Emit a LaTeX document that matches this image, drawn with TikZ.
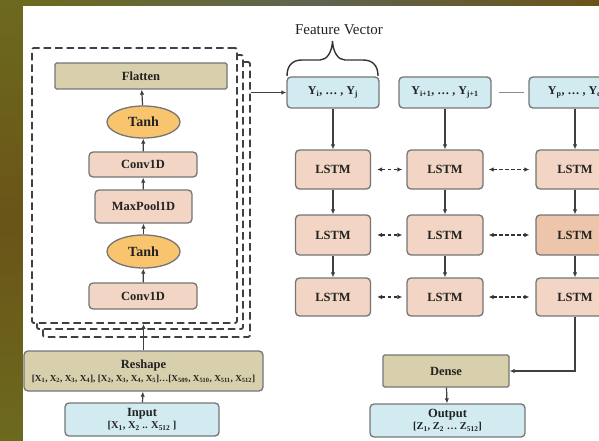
\documentclass[tikz,border=0pt]{standalone}
\usepackage{fontspec}
\setmainfont{Liberation Serif}
\usetikzlibrary{arrows.meta,calc,shapes.geometric}
\definecolor{tanfill}{HTML}{D8CFAC}
\definecolor{peach}{HTML}{F2D5C4}
\definecolor{peachdark}{HTML}{ECC5AB}
\definecolor{orangefill}{HTML}{F8C46E}
\definecolor{bluefill}{HTML}{D2EBF1}
\definecolor{edgegray}{HTML}{757575}
\definecolor{txt}{HTML}{222222}
\definecolor{olivebg}{HTML}{6C6A1E}
\definecolor{olivebrown}{HTML}{6A5418}
\definecolor{olivegray}{HTML}{5F6450}
\newcommand{\sbs}[1]{\textsubscript{#1}}
\tikzset{
  box/.style={draw=edgegray, line width=1.3pt, rounded corners=4pt, inner sep=0pt, text=txt,
    font=\fontsize{12.5}{14}\selectfont\bfseries, align=center},
  tanbox/.style={box, fill=tanfill, rounded corners=1.5pt},
  peachbox/.style={box, fill=peach},
  bluebox/.style={box, fill=bluefill},
  act/.style={ellipse, draw=edgegray, line width=1.3pt, fill=orangefill, inner sep=0pt, text=txt,
    font=\fontsize{14}{16}\selectfont\bfseries},
  frame/.style={draw=black!75, line width=1.8pt, dash pattern=on 7.5pt off 4pt, fill=white,
    rounded corners=2pt, inner sep=0pt},
  arr/.style={draw=black!75, line width=1.2pt, -{Latex[length=5pt,width=4.5pt]}},
  darr/.style={draw=black!80, line width=1.3pt, dash pattern=on 3.5pt off 2.5pt,
    {Latex[length=5pt,width=4.5pt]}-{Latex[length=5pt,width=4.5pt]}},
}
\begin{document}
\begin{tikzpicture}[x=1pt,y=-1pt]
\useasboundingbox (0,0) rectangle (599,441);
\shade[top color=olivebg, bottom color=olivebg, middle color=olivebrown] (0,0) rectangle (23,441);
\shade[left color=olivebg, right color=olivebrown, middle color=olivegray] (23,0) rectangle (599,6);
\fill[white] (23,6) rectangle (599,441);
\begin{scope}
\clip (0,0) rectangle (599,441);
% stacked dashed frames
\node[frame, minimum width=207pt, minimum height=275pt] (f3) at (146.5,199.5) {};
\node[frame, minimum width=206pt, minimum height=274pt] (f2) at (140,192) {};
\node[frame, minimum width=205pt, minimum height=275pt] (f1) at (134.5,185.5) {};
% left column
\node[tanbox, minimum width=172pt, minimum height=26pt] (flatten) at (141,76) {Flatten};
\node[act, minimum width=73pt, minimum height=32pt] (tanh1) at (143.5,122) {Tanh};
\node[peachbox, minimum width=108pt, minimum height=25pt] (conv1) at (143,164.5) {Conv1D};
\node[peachbox, minimum width=97pt, minimum height=33pt] (maxpool) at (143.5,206.5) {MaxPool1D};
\node[act, minimum width=73pt, minimum height=33pt] (tanh2) at (143.5,251.5) {Tanh};
\node[peachbox, minimum width=108pt, minimum height=26pt] (conv2) at (143,296) {Conv1D};
\node[tanbox, rounded corners=4pt, minimum width=239pt, minimum height=40pt] (reshape) at (143.5,371)
  {Reshape\\[-1pt]{\fontsize{9.2}{11}\selectfont [X\sbs{1}, X\sbs{2}, X\sbs{3}, X\sbs{4}], [X\sbs{2}, X\sbs{3}, X\sbs{4}, X\sbs{5}]…[X\sbs{509}, X\sbs{510}, X\sbs{511}, X\sbs{512}]}};
\node[bluebox, minimum width=154pt, minimum height=33pt] (input) at (142,419.5)
  {Input\\[-2pt]{\fontsize{10.5}{12}\selectfont [X\sbs{1}, X\sbs{2} .. X\sbs{512} ]}};
\draw[arr] (conv2) -- (tanh2);
\draw[arr] (tanh2) -- (maxpool);
\draw[arr] (maxpool) -- (conv1);
\draw[arr] (conv1) -- (tanh1);
\draw[arr] (tanh1) -- (flatten);
\draw[arr] (input) -- (reshape);
\draw[arr] (reshape.north) -- (reshape.north |- f1.south);
% feature vector
\node[font=\fontsize{15}{17}\selectfont, text=txt] (fv) at (339,30) {Feature Vector};
\draw[black!80, line width=1.4pt] (287,76) .. controls (287,66) and (292,60) .. (302,60) -- (320,60)
  .. controls (327,60) and (332,52) .. (332.5,41) .. controls (333,52) and (338,60) .. (345,60)
  -- (363,60) .. controls (373,60) and (378,66) .. (378,76);
\node[bluebox, font=\fontsize{12}{14}\selectfont\bfseries, minimum width=92pt, minimum height=31pt] (y1) at (333,92.5) {Y\sbs{i}, … , Y\sbs{j}};
\node[bluebox, font=\fontsize{12}{14}\selectfont\bfseries, minimum width=92pt, minimum height=31pt] (y2) at (445,92.5) {Y\sbs{i+1}, … , Y\sbs{j+1}};
\node[bluebox, font=\fontsize{12}{14}\selectfont\bfseries, minimum width=92pt, minimum height=31pt] (y3) at (575,92.5) {Y\sbs{p}, … , Y\sbs{q}};
\draw[black!45, line width=1pt, shorten <=7pt, shorten >=4pt] (y2) -- (y3);
\draw[arr] (y1.east -| f3.east) -- (y1.west);
% LSTM grid
\node[peachbox, minimum width=75pt, minimum height=39pt] (l11) at (333,169.5) {LSTM};
\node[peachbox, minimum width=75pt, minimum height=40pt] (l12) at (333,235) {LSTM};
\node[peachbox, minimum width=75pt, minimum height=38pt] (l13) at (333,297) {LSTM};
\node[peachbox, minimum width=76pt, minimum height=39pt] (l21) at (445,169.5) {LSTM};
\node[peachbox, minimum width=76pt, minimum height=40pt] (l22) at (445,235) {LSTM};
\node[peachbox, minimum width=76pt, minimum height=38pt] (l23) at (445,297) {LSTM};
\node[peachbox, minimum width=78pt, minimum height=39pt] (l31) at (575,169.5) {LSTM};
\node[peachbox, fill=peachdark, minimum width=78pt, minimum height=40pt] (l32) at (575,235) {LSTM};
\node[peachbox, minimum width=78pt, minimum height=38pt] (l33) at (575,297) {LSTM};
\foreach \c in {1,2,3}{
  \draw[arr] (y\c) -- (l\c1);
  \draw[arr] (l\c1) -- (l\c2);
  \draw[arr] (l\c2) -- (l\c3);
}
\foreach \r in {1,2,3}{
  \draw[darr, shorten <=6pt, shorten >=4pt] (l1\r) -- (l2\r);
  \draw[darr, shorten <=5pt, shorten >=6pt] (l2\r) -- (l3\r);
}
% dense and output
\node[tanbox, minimum width=126pt, minimum height=32pt] (dense) at (446,371) {Dense};
\node[bluebox, minimum width=155pt, minimum height=33pt] (output) at (447.5,420.5)
  {Output\\[-2pt]{\fontsize{10.5}{12}\selectfont [Z\sbs{1}, Z\sbs{2} … Z\sbs{512}]}};
\draw[arr] (l33.south) |- (dense.east);
\draw[arr] (dense) -- (output);
\end{scope}
\end{tikzpicture}
\end{document}
